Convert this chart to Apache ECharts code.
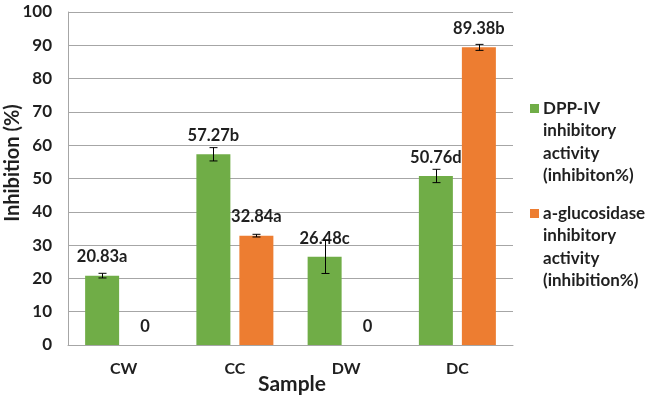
<!DOCTYPE html>
<html>
<head>
<meta charset="utf-8">
<script src="https://cdn.jsdelivr.net/npm/echarts@6/dist/echarts.min.js"></script>
<style>html,body{margin:0;padding:0;background:#fff;}#c{width:646px;height:402px;}</style>
</head>
<body>
<div id="c"></div>
<script>
const categories = ['CW', 'CC', 'DW', 'DC'];
const dppValues = [20.83, 57.27, 26.48, 50.76];
const dppErrors = [0.7, 2.0, 5.0, 2.0];
const dppLabels = ['20.83a', '57.27b', '26.48c', '50.76d'];
const glucValues = [0, 32.84, 0, 89.38];
const glucErrors = [0, 0.4, 0, 0.9];
const glucLabels = ['0', '32.84a', '0', '89.38b'];
const yTicks = [0, 10, 20, 30, 40, 50, 60, 70, 80, 90, 100];

const FONT = 'Lato';
const TXT = '#1f1f1f';
const GREEN = '#70AD47';
const ORANGE = '#ED7D31';
const BAR_W = 34, BAR_GAP = 9;

function errSeries(values, errs, side) {
  const data = values.map((v, i) => [i, v, errs[i]]);
  return {
    type: 'custom',
    z: 5,
    silent: true,
    data: data,
    renderItem: function (params, api) {
      const i = api.value(0), v = api.value(1), e = api.value(2);
      if (!e) return null;
      const off = side * (BAR_W + BAR_GAP) / 2;
      const top = api.coord([i, v + e]);
      const bot = api.coord([i, v - e]);
      const x = Math.round(top[0] + off) + 0.5;
      const cap = 4;
      const st = { stroke: '#000', lineWidth: 1 };
      return {
        type: 'group',
        children: [
          { type: 'line', shape: { x1: x, y1: top[1], x2: x, y2: bot[1] }, style: st },
          { type: 'line', shape: { x1: x - cap, y1: top[1], x2: x + cap, y2: top[1] }, style: st },
          { type: 'line', shape: { x1: x - cap, y1: bot[1], x2: x + cap, y2: bot[1] }, style: st }
        ]
      };
    }
  };
}

const labelStyle = { show: true, position: 'top', distance: 10, fontFamily: FONT, fontWeight: 'bold', fontSize: 16.5, color: TXT };

const chart = echarts.init(document.getElementById('c'));
chart.setOption({
  animation: false,
  backgroundColor: '#fff',
  grid: { left: 68, right: 133, top: 12, bottom: 57 },
  xAxis: {
    type: 'category',
    data: categories,
    axisLine: { lineStyle: { color: '#a6a6a6', width: 1 } },
    axisTick: { show: false },
    axisLabel: { margin: 16, fontFamily: FONT, fontWeight: 'bold', fontSize: 16, color: TXT }
  },
  yAxis: {
    type: 'value',
    min: 0, max: 100, interval: 10,
    axisLine: { show: true, lineStyle: { color: '#a6a6a6', width: 1 } },
    axisTick: { show: false },
    splitLine: { lineStyle: { color: '#a6a6a6', width: 1 } },
    axisLabel: {
      margin: 16, fontFamily: FONT, fontWeight: 'bold', fontSize: 17, color: TXT,
      formatter: function (v) { return yTicks.indexOf(v) >= 0 ? String(v) : ''; }
    }
  },
  series: [
    {
      name: 'DPP-IV inhibitory activity (inhibiton%)',
      type: 'bar', barWidth: BAR_W, barGap: (BAR_GAP / BAR_W * 100) + '%',
      itemStyle: { color: GREEN },
      data: dppValues,
      label: Object.assign({}, labelStyle, { formatter: p => dppLabels[p.dataIndex] })
    },
    {
      name: 'a-glucosidase inhibitory activity (inhibition%)',
      type: 'bar', barWidth: BAR_W,
      itemStyle: { color: ORANGE },
      data: glucValues,
      label: Object.assign({}, labelStyle, { formatter: p => glucLabels[p.dataIndex] })
    },
    errSeries(dppValues, dppErrors, -1),
    errSeries(glucValues, glucErrors, 1)
  ],
  graphic: [
    {
      type: 'text', x: 13, y: 163, rotation: Math.PI / 2,
      style: { text: 'Inhibition (%)', fontFamily: FONT, fontWeight: 'bold', fontSize: 20, fill: TXT, align: 'center', verticalAlign: 'middle' }
    },
    {
      type: 'text', x: 292, y: 384,
      style: { text: 'Sample', fontFamily: FONT, fontWeight: 'bold', fontSize: 21, fill: TXT, align: 'center', verticalAlign: 'middle' }
    },
    { type: 'rect', shape: { x: 530, y: 104, width: 9, height: 9 }, style: { fill: GREEN } },
    {
      type: 'text', x: 543, y: 97,
      style: { text: 'DPP-IV\ninhibitory\nactivity\n(inhibiton%)', fontFamily: FONT, fontWeight: 'bold', fontSize: 17, lineHeight: 22.5, fill: TXT, align: 'left', verticalAlign: 'top' }
    },
    { type: 'rect', shape: { x: 530, y: 209, width: 9, height: 9 }, style: { fill: ORANGE } },
    {
      type: 'text', x: 543, y: 202,
      style: { text: 'a-glucosidase\ninhibitory\nactivity\n(inhibition%)', fontFamily: FONT, fontWeight: 'bold', fontSize: 17, lineHeight: 22.5, fill: TXT, align: 'left', verticalAlign: 'top' }
    }
  ]
});
</script>
</body>
</html>
